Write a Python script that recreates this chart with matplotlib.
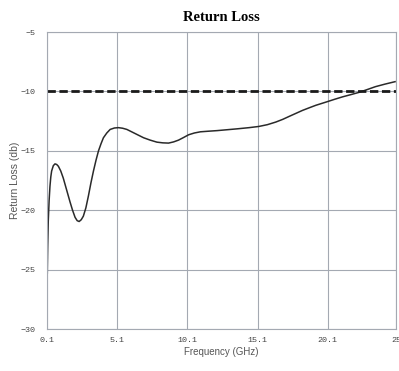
import numpy as np
import matplotlib.pyplot as plt

# values
freq_ghz = [0.12, 0.15, 0.19, 0.25, 0.31, 0.37, 0.43, 0.55, 0.67, 0.79, 0.91,
            1.08, 1.26, 1.50, 1.74, 1.92, 2.10, 2.25, 2.39, 2.54, 2.69, 2.87,
            3.05, 3.23, 3.41, 3.59, 3.77, 3.95, 4.12, 4.36, 4.60, 4.90, 5.19,
            5.49, 5.79, 6.30, 6.98, 7.45, 7.93, 8.35, 8.76, 9.12, 9.47, 9.83,
            10.19, 10.60, 11.03, 11.60, 12.22, 13.65, 14.50, 15.19, 15.80,
            16.40, 16.90, 17.36, 17.83, 18.30, 18.78, 19.25, 20.00, 20.60,
            21.15, 21.75, 22.33, 22.90, 23.50, 24.20, 24.90]
return_loss_db = [-25.3, -23.0, -20.9, -19.2, -18.0, -17.2, -16.7, -16.25,
                  -16.1, -16.15, -16.3, -16.7, -17.3, -18.3, -19.3, -20.0,
                  -20.6, -20.88, -20.95, -20.8, -20.5, -19.8, -18.8, -17.7,
                  -16.7, -15.8, -15.0, -14.4, -13.9, -13.5, -13.2, -13.08,
                  -13.05, -13.1, -13.2, -13.5, -13.9, -14.1, -14.27, -14.33,
                  -14.35, -14.25, -14.1, -13.88, -13.65, -13.5, -13.4, -13.35,
                  -13.3, -13.15, -13.05, -12.95, -12.8, -12.58, -12.35, -12.1,
                  -11.85, -11.6, -11.38, -11.17, -10.89, -10.66, -10.46,
                  -10.27, -10.08, -9.85, -9.6, -9.38, -9.18]
threshold_db = -10
x_ticks = [0.1, 5.1, 10.1, 15.1, 20.1, 25]
x_tick_labels = ["0.1", "5.1", "10.1", "15.1", "20.1", "25"]
y_ticks = [-30, -25, -20, -15, -10, -5]

fig = plt.figure(figsize=(3.99, 3.71), dpi=100)
ax = fig.add_axes([0.1178, 0.1132, 0.8759, 0.8005])

ax.plot(freq_ghz, return_loss_db, color="#2a2a2a", linewidth=1.1,
        solid_joinstyle="round")
ax.axhline(threshold_db, color="#1a1a1a", linewidth=2.0, dashes=(3, 1.3))

ax.set_xlim(0.1, 25)
ax.set_ylim(-30, -5)
ax.set_xticks(x_ticks)
ax.set_xticklabels(x_tick_labels)
ax.set_yticks(y_ticks)
ax.grid(True, color="#a4a9b2", linewidth=0.8)
ax.set_axisbelow(True)
for s in ax.spines.values():
    s.set_color("#a4a9b2")
    s.set_linewidth(0.8)
ax.tick_params(length=0, labelsize=6, labelcolor="#444444")
ax.tick_params(axis="x", pad=6)
ax.tick_params(axis="y", pad=8)
for lab in ax.get_xticklabels() + ax.get_yticklabels():
    lab.set_family("Liberation Mono")

ax.set_title("Return Loss", family="Liberation Serif", fontweight="bold",
             fontsize=10.5, pad=8)
ax.set_xlabel("Frequency (GHz)", family="Liberation Sans", fontsize=7,
              color="#555555", labelpad=2)
ax.set_ylabel("Return Loss (db)", family="Liberation Sans", fontsize=7.5,
              color="#555555", labelpad=1)

fig.savefig("out.png", dpi=100)
